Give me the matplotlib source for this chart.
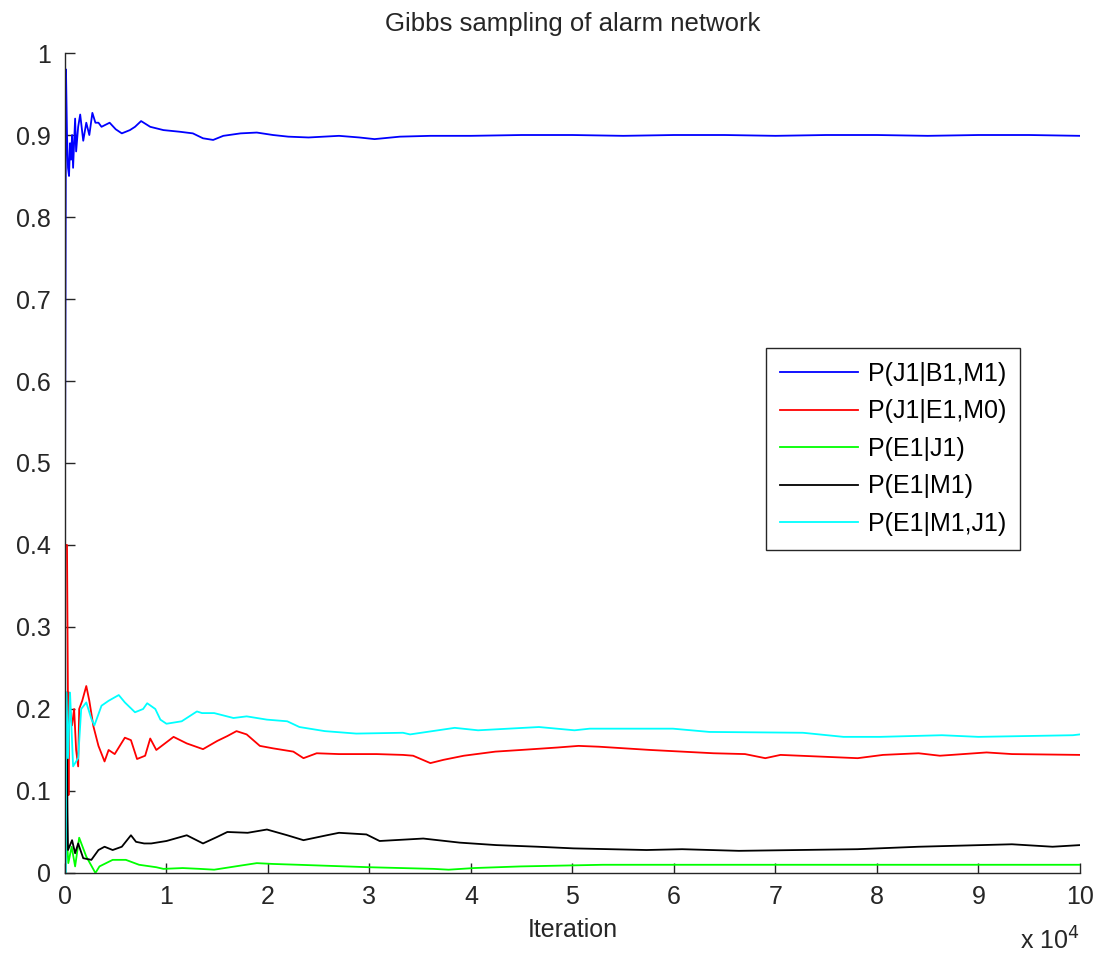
import matplotlib
matplotlib.use("Agg")
import matplotlib.pyplot as plt
from matplotlib.ticker import FuncFormatter

plt.rcParams['font.family'] = ['Liberation Sans', 'DejaVu Sans']
plt.rcParams['font.size'] = 18

# running estimates (iteration, probability)
blue_x = [1, 100, 200, 300, 400, 500, 600, 700, 800, 1000, 1100, 1300, 1500, 1800, 2100, 2400,
          2700, 3000, 3300, 3600, 4400, 5000, 5600, 6400, 6900, 7500, 8400, 9700, 11300, 12600,
          13600, 14600, 15600, 17300, 18900, 20500, 22000, 24000, 27000, 29000, 30500, 33000,
          36000, 40000, 45000, 50000, 55000, 60000, 65000, 70000, 75000, 80000, 85000, 90000,
          95000, 100000]
blue_y = [0.43, 0.98, 0.90, 0.86, 0.85, 0.89, 0.87, 0.90, 0.86, 0.92, 0.88, 0.91, 0.925, 0.893,
          0.915, 0.90, 0.927, 0.915, 0.915, 0.91, 0.915, 0.907, 0.902, 0.906, 0.91, 0.917, 0.91,
          0.906, 0.904, 0.902, 0.896, 0.894, 0.899, 0.902, 0.903, 0.900, 0.898, 0.897, 0.899,
          0.897, 0.895, 0.898, 0.899, 0.899, 0.900, 0.900, 0.899, 0.900, 0.900, 0.899, 0.900,
          0.900, 0.899, 0.900, 0.900, 0.899]

red_x = [1, 200, 350, 400, 500, 700, 900, 1100, 1300, 1400, 1700, 2100, 2400, 2800, 3300, 3900,
         4300, 4900, 5900, 6500, 7100, 7900, 8400, 9000, 10700, 12000, 13600, 15000, 16000, 16900,
         17900, 19200, 20500, 22500, 23500, 24800, 27000, 30700, 33300, 34300, 36000, 37300,
         39300, 42400, 44900, 48500, 50600, 52600, 57700, 60800, 63900, 67000, 69000, 70500,
         78100, 80600, 84100, 86200, 90800, 93300, 100000]
red_y = [0.40, 0.40, 0.095, 0.22, 0.20, 0.18, 0.20, 0.15, 0.13, 0.20, 0.21, 0.228, 0.21, 0.179,
         0.155, 0.136, 0.15, 0.145, 0.165, 0.162, 0.139, 0.143, 0.164, 0.15, 0.166, 0.158, 0.151,
         0.161, 0.167, 0.173, 0.169, 0.155, 0.152, 0.148, 0.140, 0.146, 0.145, 0.145, 0.144,
         0.143, 0.134, 0.138, 0.143, 0.148, 0.150, 0.153, 0.155, 0.154, 0.150, 0.148, 0.146,
         0.145, 0.140, 0.144, 0.140, 0.144, 0.146, 0.143, 0.147, 0.145, 0.144]

green_x = [1, 100, 330, 660, 1000, 1400, 2100, 3000, 3400, 4700, 6000, 7300, 9000, 9700, 11600,
           13300, 14700, 17300, 18900, 20500, 23000, 30000, 36300, 37800, 40300, 44900, 53000,
           100000]
green_y = [0.0, 0.061, 0.012, 0.032, 0.008, 0.043, 0.02, 0.0, 0.008, 0.016, 0.016, 0.01, 0.007,
           0.005, 0.006, 0.005, 0.004, 0.009, 0.012, 0.011, 0.010, 0.007, 0.005, 0.004, 0.006,
           0.008, 0.010, 0.010]

black_x = [1, 150, 250, 300, 700, 1000, 1300, 1800, 2600, 3300, 3900, 4700, 5600, 6500, 7000,
           7800, 8500, 10000, 12000, 13600, 15000, 16000, 18000, 19900, 21900, 23500, 25800,
           27000, 29700, 31000, 35300, 38900, 42500, 46600, 50100, 57300, 60800, 66400, 78100,
           84100, 93300, 97300, 100000]
black_y = [0.0, 0.22, 0.073, 0.028, 0.04, 0.024, 0.036, 0.018, 0.016, 0.028, 0.032, 0.028, 0.032,
           0.046, 0.038, 0.036, 0.036, 0.039, 0.046, 0.036, 0.044, 0.050, 0.049, 0.053, 0.046,
           0.040, 0.046, 0.049, 0.047, 0.039, 0.042, 0.037, 0.034, 0.032, 0.030, 0.028, 0.029,
           0.027, 0.029, 0.032, 0.035, 0.032, 0.034]

cyan_x = [1, 50, 150, 300, 500, 800, 1300, 1600, 2100, 2600, 2900, 3600, 4300, 5300, 5900, 6900,
          7700, 8100, 8900, 9400, 10000, 11500, 13000, 13500, 14700, 16600, 17900, 19900, 21900,
          23100, 25600, 28700, 33300, 34000, 38400, 40700, 46700, 50200, 51700, 59900, 63500,
          72700, 76700, 80300, 86400, 90000, 99300, 100000]
cyan_y = [0.43, 0.0, 0.22, 0.14, 0.22, 0.13, 0.14, 0.2, 0.208, 0.188, 0.18, 0.204, 0.21, 0.217,
          0.208, 0.196, 0.2, 0.207, 0.2, 0.187, 0.182, 0.185, 0.197, 0.195, 0.195, 0.189, 0.191,
          0.187, 0.185, 0.178, 0.173, 0.170, 0.171, 0.169, 0.177, 0.174, 0.178, 0.174, 0.176,
          0.176, 0.172, 0.171, 0.166, 0.166, 0.168, 0.166, 0.168, 0.169]

labels = ['P(J1|B1,M1)', 'P(J1|E1,M0)', 'P(E1|J1)', 'P(E1|M1)', 'P(E1|M1,J1)']

fig = plt.figure(figsize=(11.03, 9.57), dpi=100)
ax = fig.add_axes([0.0589, 0.0878, 0.9202, 0.8568])

ax.plot(blue_x, blue_y, color='#0000ff', lw=1.3, label=labels[0])
ax.plot(red_x, red_y, color='#ff0000', lw=1.3, label=labels[1])
ax.plot(green_x, green_y, color='#00ff00', lw=1.3, label=labels[2])
ax.plot(black_x, black_y, color='#000000', lw=1.3, label=labels[3])
ax.plot(cyan_x, cyan_y, color='#00ffff', lw=1.3, label=labels[4])

ax.set_xlim(0, 100000)
ax.set_ylim(0, 1)
ax.set_xticks(range(0, 100001, 10000))
ax.set_yticks([i / 10 for i in range(11)])
ax.xaxis.set_major_formatter(FuncFormatter(lambda v, p: '%d' % round(v / 10000)))
ax.yaxis.set_major_formatter(FuncFormatter(lambda v, p: '%g' % round(v, 1)))
ax.tick_params(direction='in', length=7, width=1, colors='#262626', labelcolor='#262626')
ax.tick_params(axis='y', pad=10)
ax.tick_params(axis='x', pad=9)
for s in ['top', 'right']:
    ax.spines[s].set_visible(False)
for s in ['left', 'bottom']:
    ax.spines[s].set_color('#262626')
    ax.spines[s].set_linewidth(1)

ax.set_title('Gibbs sampling of alarm network', fontsize=18.5, pad=16, color='#262626')
ax.set_xlabel('Iteration', labelpad=6, color='#262626')
ax.text(1.0, -0.094, 'x 10$^4$', transform=ax.transAxes, ha='right', va='baseline',
        color='#262626')

leg = ax.legend(loc='upper left', bbox_to_anchor=(0.691, 0.640), borderaxespad=0,
                handlelength=3.1, handletextpad=0.4, labelspacing=0.54, borderpad=0.55,
                fancybox=False, framealpha=1, edgecolor='#262626')
leg.get_frame().set_linewidth(1)

plt.savefig('out.png', dpi=100)
